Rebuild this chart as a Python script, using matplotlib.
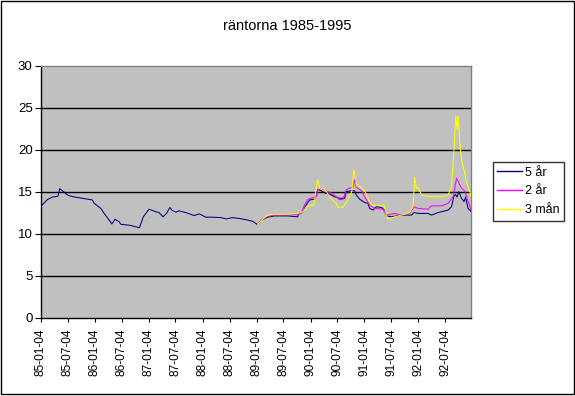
import matplotlib
matplotlib.use("Agg")
import matplotlib.pyplot as plt
import matplotlib.dates as mdates
from matplotlib.patches import Rectangle
import pandas as pd

plt.rcParams['font.family'] = ['Liberation Sans', 'DejaVu Sans']

title = "räntorna 1985-1995"
series_names = ["5 år", "2 år", "3 mån"]

dates_5ar = ["1985-01-04", "1985-02-16", "1985-03-22", "1985-04-29", "1985-05-11", "1985-05-29",
             "1985-07-02", "1985-08-05", "1985-10-11", "1985-12-18", "1985-12-30", "1986-02-13",
             "1986-03-08", "1986-04-11", "1986-04-29", "1986-05-21", "1986-06-18", "1986-06-29",
             "1986-08-25", "1986-11-02", "1986-11-28", "1987-01-06", "1987-02-21", "1987-03-15",
             "1987-04-11", "1987-05-04", "1987-05-27", "1987-06-13", "1987-07-07", "1987-07-29",
             "1987-09-12", "1987-11-08", "1987-12-12", "1988-01-26", "1988-03-11", "1988-05-07",
             "1988-06-10", "1988-07-25", "1988-09-08", "1988-10-24", "1988-12-10", "1989-01-10",
             "1989-02-03", "1989-03-20", "1989-05-04", "1989-08-02", "1989-10-09", "1989-10-16",
             "1989-11-12", "1989-12-05", "1989-12-28", "1990-01-31", "1990-02-11", "1990-02-22",
             "1990-03-17", "1990-04-09", "1990-05-12", "1990-06-16", "1990-07-19", "1990-08-22",
             "1990-09-03", "1990-10-07", "1990-10-29", "1990-11-10", "1990-12-02", "1991-01-05",
             "1991-01-28", "1991-02-08", "1991-03-03", "1991-03-26", "1991-04-29", "1991-05-21",
             "1991-06-02", "1991-07-06", "1991-09-11", "1991-11-18", "1991-12-06", "1992-01-02",
             "1992-03-10", "1992-04-02", "1992-05-17", "1992-07-24", "1992-08-16", "1992-08-31",
             "1992-09-12", "1992-09-23", "1992-10-04", "1992-10-23", "1992-11-09", "1992-11-19",
             "1992-12-06", "1992-12-26"]
values_5ar = [13.3, 14.1, 14.4, 14.5, 15.4, 15.15,
              14.65, 14.45, 14.25, 14.05, 13.65, 13.05,
              12.45, 11.65, 11.2, 11.75, 11.45, 11.15,
              11.05, 10.75, 12.05, 12.95, 12.65, 12.55,
              12.05, 12.45, 13.15, 12.8, 12.6, 12.75,
              12.55, 12.2, 12.4, 12.0, 12.0, 11.95,
              11.8, 11.95, 11.85, 11.7, 11.5, 11.1,
              11.65, 12.0, 12.15, 12.15, 12.05, 12.45,
              12.65, 13.45, 14.05, 14.15, 14.65, 15.3,
              15.15, 14.9, 14.75, 14.45, 14.25, 14.25,
              15.05, 15.15, 15.15, 14.65, 14.15, 13.75,
              13.65, 13.05, 12.85, 13.25, 13.15, 12.85,
              12.15, 12.05, 12.25, 12.25, 12.55, 12.45,
              12.45, 12.25, 12.55, 12.85, 13.25, 14.45,
              14.7, 14.4, 15.05, 14.25, 13.85, 14.4,
              13.05, 12.7]

dates_2ar = ["1989-01-10", "1989-02-03", "1989-03-20", "1989-05-04", "1989-08-02", "1989-10-09",
             "1989-11-01", "1989-11-24", "1989-12-16", "1990-01-19", "1990-02-11", "1990-02-22",
             "1990-03-17", "1990-04-20", "1990-05-24", "1990-06-27", "1990-07-19", "1990-08-11",
             "1990-09-03", "1990-09-25", "1990-10-18", "1990-10-29", "1990-11-10", "1990-12-14",
             "1991-01-05", "1991-02-08", "1991-03-14", "1991-05-09", "1991-06-02", "1991-07-28",
             "1991-09-11", "1991-11-07", "1991-12-06", "1992-01-02", "1992-03-10", "1992-04-02",
             "1992-06-10", "1992-07-24", "1992-08-27", "1992-09-19", "1992-10-04", "1992-10-23",
             "1992-11-14", "1992-12-06", "1992-12-26"]
values_2ar = [11.1, 11.7, 12.1, 12.25, 12.3, 12.3,
              12.45, 13.45, 14.1, 14.35, 14.4, 15.25,
              15.45, 15.15, 14.85, 14.45, 14.1, 14.1,
              15.3, 15.45, 15.55, 16.45, 15.55, 15.15,
              14.45, 13.45, 13.05, 12.95, 12.25, 12.45,
              12.25, 12.45, 13.25, 13.05, 12.95, 13.35,
              13.35, 13.65, 14.45, 16.65, 16.1, 15.45,
              15.1, 13.85, 12.9]

dates_3man = ["1989-01-10", "1989-02-03", "1989-03-20", "1989-05-04", "1989-08-02", "1989-10-09",
              "1989-11-12", "1989-12-05", "1989-12-28", "1990-01-27", "1990-02-11", "1990-02-22",
              "1990-03-06", "1990-03-28", "1990-04-20", "1990-05-12", "1990-06-27", "1990-07-08",
              "1990-08-11", "1990-09-14", "1990-10-11", "1990-10-25", "1990-11-10", "1990-12-14",
              "1991-01-05", "1991-01-28", "1991-02-20", "1991-04-29", "1991-05-16", "1991-06-02",
              "1991-06-12", "1991-07-28", "1991-09-11", "1991-11-07", "1991-11-29", "1991-12-11",
              "1991-12-22", "1992-01-02", "1992-01-26", "1992-03-10", "1992-06-10", "1992-07-24",
              "1992-08-16", "1992-09-02", "1992-09-14", "1992-09-23", "1992-09-30", "1992-10-11",
              "1992-10-23", "1992-11-09", "1992-11-25", "1992-12-17", "1992-12-26"]
values_3man = [11.1, 11.6, 12.25, 12.35, 12.35, 12.45,
               12.65, 13.2, 13.35, 13.45, 15.45, 16.5,
               15.45, 15.45, 15.1, 14.45, 13.65, 13.2,
               13.2, 14.05, 15.1, 17.7, 15.85, 15.55,
               15.15, 14.25, 13.45, 13.35, 13.5, 12.25,
               11.75, 12.05, 12.25, 12.55, 13.25, 16.75,
               15.45, 15.55, 14.65, 14.45, 14.45, 14.65,
               15.65, 20.0, 24.05, 22.4, 24.05, 20.8,
               18.8, 17.6, 16.2, 15.1, 14.5]

tick_dates = ["1985-01-04", "1985-07-04", "1986-01-04", "1986-07-04", "1987-01-04", "1987-07-04",
              "1988-01-04", "1988-07-04", "1989-01-04", "1989-07-04", "1990-01-04", "1990-07-04",
              "1991-01-04", "1991-07-04", "1992-01-04", "1992-07-04"]
y_ticks = [0, 5, 10, 15, 20, 25, 30]

W, H = 575, 396
fig = plt.figure(figsize=(W / 100, H / 100), dpi=100)
fig.patch.set_facecolor('white')
ax = fig.add_axes([41 / W, 1 - 318 / H, 430 / W, 252 / H])
ax.set_facecolor('#C0C0C0')

colors = ['#000080', '#FF00FF', '#FFFF00']
data = [(dates_5ar, values_5ar), (dates_2ar, values_2ar), (dates_3man, values_3man)]
for (d, v), name, c in zip(data, series_names, colors):
    ax.plot(pd.to_datetime(d), v, color=c, lw=0.75, label=name, zorder=3)

ax.set_ylim(0, 30)
ax.set_yticks(y_ticks)
ax.set_xlim(pd.Timestamp("1985-01-04"), pd.Timestamp("1992-12-26"))
ax.set_xticks(pd.to_datetime(tick_dates))
ax.xaxis.set_major_formatter(mdates.DateFormatter('%y-%m-%d'))

for y in y_ticks[1:-1]:
    ax.axhline(y, color='black', lw=1.0, zorder=1)

for s in ['top', 'right']:
    ax.spines[s].set_color('#808080')
    ax.spines[s].set_linewidth(1.0)
for s in ['left', 'bottom']:
    ax.spines[s].set_color('black')
    ax.spines[s].set_linewidth(1.0)

ax.tick_params(axis='y', direction='out', length=4, width=0.8, pad=2, labelsize=9.5, colors='black')
ax.tick_params(axis='x', direction='out', length=3, width=0.8, pad=4.5, labelsize=8.6,
               labelrotation=90, colors='black')

fig.text(287 / W, 1 - 26 / H, title, ha='center', va='center', fontsize=10.5)

leg = fig.legend(loc='center', bbox_to_anchor=(528.5 / W, 1 - 191.5 / H),
                 bbox_transform=fig.transFigure, frameon=True, fancybox=False,
                 fontsize=9, handlelength=2.0, handletextpad=0.2, labelspacing=0.55,
                 borderpad=0.35, borderaxespad=0)
leg.get_frame().set_edgecolor('black')
leg.get_frame().set_linewidth(1.0)
for h in leg.get_lines():
    h.set_linewidth(1.0)

fig.patches.append(Rectangle((0.5 / W, 1 - 394 / H), 573 / W, 393.5 / H,
                             transform=fig.transFigure, fill=False, edgecolor='black', lw=1.0))

fig.savefig('out.png', dpi=100)
